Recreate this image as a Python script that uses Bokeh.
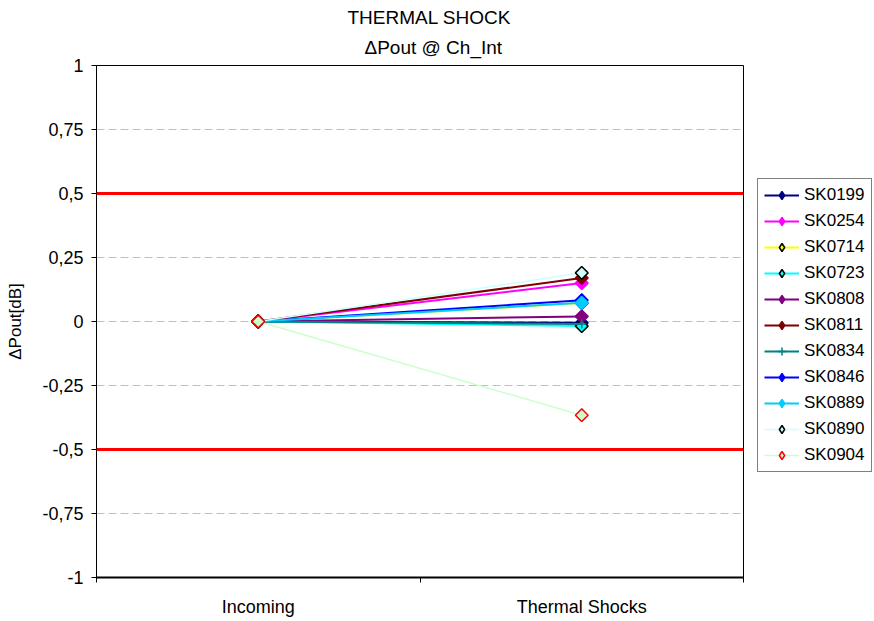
import math
from bokeh.plotting import figure
from bokeh.layouts import row
from bokeh.models import (Range1d, FixedTicker, Span, Legend, LegendItem, Title)
from bokeh.embed import file_html
from bokeh.resources import INLINE

categories = ["Incoming", "Thermal Shocks"]
series_names = ["SK0199", "SK0254", "SK0714", "SK0723", "SK0808", "SK0811",
                "SK0834", "SK0846", "SK0889", "SK0890", "SK0904"]
incoming = [0, 0, 0, 0, 0, 0, 0, 0, 0, 0, 0]
thermal = [-0.005, 0.15, 0.072, -0.018, 0.02, 0.17, -0.01, 0.083, 0.073, 0.19, -0.366]
line_colors = ["#000080", "#FF00FF", "#FFFF00", "#00FFFF", "#800080", "#800000",
               "#008080", "#0000FF", "#00CCFF", "#CCFFFF", "#CCFFCC"]
marker_fill = ["#000080", "#FF00FF", "#FFFF00", "#00FFFF", "#800080", "#800000",
               "#008080", "#0000FF", "#00CCFF", "#CCFFFF", "#CCFFCC"]
marker_line = ["#000080", "#FF00FF", "#000000", "#000000", "#800080", "#800000",
               "#008080", "#0000FF", "#00CCFF", "#000000", "#FF0000"]
marker_type = ["diamond"] * 6 + ["cross"] + ["diamond"] * 4
y_ticks = [-1, -0.75, -0.5, -0.25, 0, 0.25, 0.5, 0.75, 1]
y_tick_labels = ["-1", "-0,75", "-0,5", "-0,25", "0", "0,25", "0,5", "0,75", "1"]
limits = [0.5, -0.5]

FONT = "Liberation Sans"
H = 619
MAIN_W = 744

p = figure(width=MAIN_W, height=H, output_backend="svg", toolbar_location=None,
           x_range=Range1d(0, 2), y_range=Range1d(-1, 1),
           min_border_left=96, min_border_right=1, min_border_top=65,
           min_border_bottom=40)
p.title = None
p.background_fill_color = "white"
p.border_fill_color = "white"
p.outline_line_color = "#000000"
p.outline_line_width = 1

# titles (closest to the frame first)
p.add_layout(Title(text="\u0394Pout @ Ch_Int", align="left", offset=268,
                   text_font=FONT, text_font_size="19px",
                   text_font_style="normal", text_color="#000000",
                   standoff=15), "above")
p.add_layout(Title(text="THERMAL SHOCK", align="left", offset=251,
                   text_font=FONT, text_font_size="19px",
                   text_font_style="normal", text_color="#000000",
                   standoff=0), "above")

# x axis
xpos = [i + 0.5 for i in range(len(categories))]
p.xaxis.ticker = FixedTicker(ticks=xpos, minor_ticks=[0, 1, 2])
p.xaxis.major_label_overrides = {x: c for x, c in zip(xpos, categories)}
p.xaxis.major_tick_out = 0
p.xaxis.major_tick_in = 0
p.xaxis.minor_tick_out = 5
p.xaxis.minor_tick_in = 0
p.xaxis.axis_line_color = "#000000"
p.xaxis.axis_line_width = 2
p.xaxis.major_label_text_font = FONT
p.xaxis.major_label_text_font_size = "18px"
p.xaxis.major_label_text_color = "#000000"
p.xaxis.major_label_standoff = 14
p.xaxis.minor_tick_line_color = "#000000"
p.xgrid.visible = False

# y axis
p.yaxis.ticker = FixedTicker(ticks=y_ticks, minor_ticks=[])
p.yaxis.major_label_overrides = {t: l for t, l in zip(y_ticks, y_tick_labels)}
p.yaxis.major_tick_out = 5
p.yaxis.major_tick_in = 0
p.yaxis.axis_line_color = "#000000"
p.yaxis.major_tick_line_color = "#000000"
p.yaxis.major_label_text_font = FONT
p.yaxis.major_label_text_font_size = "18px"
p.yaxis.major_label_text_color = "#000000"
p.yaxis.major_label_standoff = 8
p.yaxis.axis_label = "\u0394Pout[dB]"
p.yaxis.axis_label_text_font = FONT
p.yaxis.axis_label_text_font_size = "17px"
p.yaxis.axis_label_text_font_style = "normal"
p.yaxis.axis_label_text_color = "#000000"
p.yaxis.axis_label_standoff = 14
p.ygrid.ticker = FixedTicker(ticks=[-0.75, -0.25, 0, 0.25, 0.75])
p.ygrid.grid_line_color = "#C0C0C0"
p.ygrid.grid_line_dash = "8 4"
p.ygrid.grid_line_width = 1

for lim in limits:
    p.add_layout(Span(location=lim, dimension="width", line_color="#FF0000",
                      line_width=3))

# legend panel as its own small figure; its copies of the series lie outside
# its (hidden) ranges, so only the legend shows
lg = figure(width=874 - MAIN_W, height=H, output_backend="svg",
            toolbar_location=None, x_axis_location=None, y_axis_location=None,
            x_range=Range1d(10, 11), y_range=Range1d(10, 11),
            min_border=0, outline_line_color=None)
lg.title = None
lg.xgrid.visible = False
lg.ygrid.visible = False
lg.border_fill_color = "white"
lg.background_fill_color = "white"

items = []
for i, name in enumerate(series_names):
    ys = [incoming[i], thermal[i]]
    lw = 1.5 if name in ("SK0890", "SK0904") else 2
    line_kw = dict(line_color=line_colors[i], line_width=lw)
    if marker_type[i] == "cross":
        mk = dict(marker="cross", size=9, line_color=line_colors[i], line_width=1.5)
        mk_leg = mk
    else:
        mk = dict(marker="square", angle=math.pi / 4, size=9,
                  fill_color=marker_fill[i], line_color=marker_line[i],
                  line_width=1.5)
        mk_leg = dict(marker="diamond", size=14,
                      fill_color=marker_fill[i], line_color=marker_line[i],
                      line_width=1.5)
    p.line(xpos, ys, **line_kw)
    p.scatter(xpos, ys, **mk)
    l1 = lg.line(xpos, ys, **line_kw)
    l2 = lg.scatter(xpos, ys, **mk_leg)
    items.append(LegendItem(label=name, renderers=[l1, l2]))

legend = Legend(items=items, location=(13, 105), orientation="vertical",
                label_text_font=FONT, label_text_font_size="17px",
                label_text_color="#000000", glyph_width=35, glyph_height=20,
                label_height=20, label_width=60, spacing=6, padding=6,
                label_standoff=5, margin=0, border_line_color="#000000",
                border_line_width=1, background_fill_color="white",
                background_fill_alpha=1)
lg.add_layout(legend, "center")

layout = row(p, lg)
open("out.html", "w").write(file_html(layout, INLINE))
